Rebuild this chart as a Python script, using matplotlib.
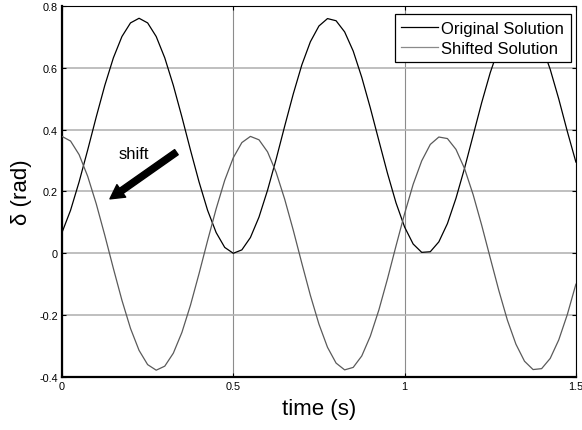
import matplotlib
matplotlib.use("Agg")
import matplotlib.pyplot as plt

# time samples (s)
t = [round(0.025 * i, 3) for i in range(61)]

original = [0.067, 0.139, 0.231, 0.334, 0.441, 0.543, 0.632, 0.701, 0.745, 0.760,
            0.745, 0.701, 0.632, 0.543, 0.441, 0.334, 0.231, 0.139, 0.067, 0.019,
            0.000, 0.011, 0.051, 0.117, 0.204, 0.304, 0.411, 0.515, 0.609, 0.684,
            0.735, 0.759, 0.752, 0.716, 0.654, 0.569, 0.470, 0.364, 0.259, 0.163,
            0.085, 0.030, 0.003, 0.005, 0.037, 0.096, 0.178, 0.275, 0.381, 0.487,
            0.584, 0.665, 0.724, 0.755, 0.757, 0.729, 0.673, 0.595, 0.499, 0.394,
            0.295]

shifted = [0.378, 0.363, 0.319, 0.249, 0.160, 0.058, -0.049, -0.152, -0.243, -0.314,
           -0.360, -0.378, -0.365, -0.323, -0.256, -0.168, -0.066, 0.041, 0.144, 0.236,
           0.309, 0.358, 0.378, 0.367, 0.328, 0.262, 0.175, 0.075, -0.032, -0.136,
           -0.229, -0.304, -0.355, -0.377, -0.369, -0.332, -0.268, -0.183, -0.083, 0.024,
           0.128, 0.223, 0.299, 0.352, 0.376, 0.371, 0.336, 0.274, 0.190, 0.091,
           -0.015, -0.120, -0.216, -0.294, -0.349, -0.376, -0.373, -0.340, -0.280, -0.198,
           -0.100]

series_labels = ["Original Solution", "Shifted Solution"]
xticks = [0, 0.5, 1, 1.5]
xtick_labels = ["0", "0.5", "1", "1.5"]
yticks = [-0.4, -0.2, 0, 0.2, 0.4, 0.6, 0.8]
ytick_labels = ["-0.4", "-0.2", "0", "0.2", "0.4", "0.6", "0.8"]

plt.rcParams['font.family'] = ['Liberation Sans', 'DejaVu Sans']

fig = plt.figure(figsize=(5.82, 4.31), dpi=100)
ax = fig.add_axes([0.1065, 0.123, 0.883, 0.861])

ax.plot(t, original, color='black', lw=0.9, label=series_labels[0], zorder=3)
ax.plot(t, shifted, color='#5a5a5a', lw=0.9, label=series_labels[1], zorder=3)

ax.set_xlim(0, 1.5)
ax.set_ylim(-0.4, 0.8)
ax.set_xticks(xticks)
ax.set_xticklabels(xtick_labels)
ax.set_yticks(yticks)
ax.set_yticklabels(ytick_labels)
ax.tick_params(direction='in', length=3, width=0.8, labelsize=7.8, pad=3,
               top=True, right=True, colors='black')

ax.yaxis.grid(True, color='#b4b4b4', lw=1.2)
ax.xaxis.grid(True, color='#8c8c8c', lw=0.8)
ax.set_axisbelow(True)

for side in ['left', 'bottom']:
    ax.spines[side].set_linewidth(1.6)
for side in ['top', 'right']:
    ax.spines[side].set_linewidth(0.8)

ax.set_xlabel("time (s)", fontsize=16, labelpad=5)
ax.set_ylabel("δ (rad)", fontsize=16, labelpad=5)

ax.annotate('', xy=(0.140, 0.176), xytext=(0.334, 0.327),
            arrowprops=dict(facecolor='black', edgecolor='black',
                            width=4.5, headwidth=11, headlength=10, shrink=0),
            zorder=4)
ax.text(0.21, 0.322, "shift", fontsize=12, ha='center', va='center', zorder=4)

leg = ax.legend(loc='upper right', bbox_to_anchor=(0.99, 0.978), borderaxespad=0,
                fontsize=12, fancybox=False, framealpha=1, edgecolor='black',
                handlelength=2.2, handletextpad=0.2, borderpad=0.4, labelspacing=0.3)
leg.get_frame().set_linewidth(0.9)
leg.get_lines()[1].set_color('#8a8a8a')

fig.savefig("out.png", dpi=100)
